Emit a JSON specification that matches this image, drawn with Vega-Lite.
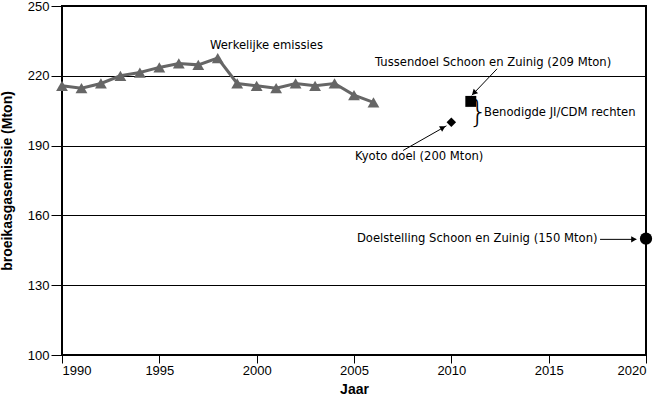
{
  "$schema": "https://vega.github.io/schema/vega-lite/v6.json",
  "width": 584,
  "height": 349,
  "autosize": {"type": "none"},
  "padding": {"left": 62, "top": 6, "right": 18, "bottom": 50},
  "background": "white",
  "config": {
    "view": {"stroke": "black", "strokeWidth": 2},
    "font": "Liberation Sans",
    "axis": {
      "labelFont": "Liberation Sans",
      "titleFont": "Liberation Sans",
      "labelFontSize": 13,
      "titleFontSize": 14,
      "titleFontWeight": "bold",
      "labelColor": "black",
      "titleColor": "black",
      "tickColor": "black",
      "domain": false
    }
  },
  "datasets": {
    "emissies": [
      {"Jaar": 1990, "waarde": 215.7},
      {"Jaar": 1991, "waarde": 214.7},
      {"Jaar": 1992, "waarde": 216.7},
      {"Jaar": 1993, "waarde": 220.0},
      {"Jaar": 1994, "waarde": 221.4},
      {"Jaar": 1995, "waarde": 223.6},
      {"Jaar": 1996, "waarde": 225.3},
      {"Jaar": 1997, "waarde": 224.7},
      {"Jaar": 1998, "waarde": 227.6},
      {"Jaar": 1999, "waarde": 216.7},
      {"Jaar": 2000, "waarde": 215.7},
      {"Jaar": 2001, "waarde": 214.7},
      {"Jaar": 2002, "waarde": 216.7},
      {"Jaar": 2003, "waarde": 215.7},
      {"Jaar": 2004, "waarde": 216.7},
      {"Jaar": 2005, "waarde": 211.7},
      {"Jaar": 2006, "waarde": 208.6}
    ],
    "doelen": [
      {"Jaar": 2010, "waarde": 200, "doel": "Kyoto doel"},
      {"Jaar": 2011, "waarde": 209, "doel": "Tussendoel"},
      {"Jaar": 2020, "waarde": 150, "doel": "Doelstelling"}
    ],
    "labels": [
      {"Jaar": 1997.6, "waarde": 232.9, "tekst": "Werkelijke emissies"},
      {"Jaar": 2006.08, "waarde": 225.6, "tekst": "Tussendoel Schoon en Zuinig (209 Mton)"},
      {"Jaar": 2005.05, "waarde": 184.9, "tekst": "Kyoto doel (200 Mton)"},
      {"Jaar": 2011.68, "waarde": 204.1, "tekst": "Benodigde JI/CDM rechten"},
      {"Jaar": 2005.15, "waarde": 149.7, "tekst": "Doelstelling Schoon en Zuinig (150 Mton)"}
    ],
    "pijlen": [
      {"Jaar": 2012.35, "waarde": 223.0, "Jaar2": 2011.05, "waarde2": 211.6},
      {"Jaar": 2007.52, "waarde": 187.9, "Jaar2": 2009.75, "waarde2": 198.5},
      {"Jaar": 2017.64, "waarde": 149.7, "Jaar2": 2019.5, "waarde2": 149.7}
    ]
  },
  "encoding": {
    "x": {
      "field": "Jaar",
      "type": "quantitative",
      "scale": {"domain": [1990, 2020], "nice": false, "zero": false},
      "axis": {"title": "Jaar", "format": "d", "values": [1990, 1995, 2000, 2005, 2010, 2015, 2020], "grid": false, "tickSize": 8, "labelPadding": 1, "titlePadding": 5}
    },
    "y": {
      "field": "waarde",
      "type": "quantitative",
      "scale": {"domain": [100, 250], "nice": false, "zero": false},
      "axis": {"title": "broeikasgasemissie (Mton)", "values": [100, 130, 160, 190, 220, 250], "grid": true, "gridColor": "black", "gridOpacity": 1, "gridWidth": 1, "tickSize": 11, "labelPadding": 2, "titlePadding": 13}
    }
  },
  "layer": [
    {
      "data": {"name": "emissies"},
      "mark": {"type": "line", "color": "#666666", "strokeWidth": 3, "point": {"shape": "triangle-up", "filled": true, "color": "#666666", "size": 140}}
    },
    {
      "data": {"name": "doelen"},
      "mark": {"type": "point", "filled": true, "color": "black", "opacity": 1},
      "encoding": {
        "shape": {"field": "doel", "type": "nominal", "scale": {"domain": ["Kyoto doel", "Tussendoel", "Doelstelling"], "range": ["diamond", "square", "circle"]}, "legend": null},
        "size": {"field": "doel", "type": "nominal", "scale": {"domain": ["Kyoto doel", "Tussendoel", "Doelstelling"], "range": [90, 150, 130]}, "legend": null}
      }
    },
    {
      "data": {"name": "labels"},
      "mark": {"type": "text", "align": "left", "baseline": "middle", "fontSize": 11.6, "font": "DejaVu Sans", "color": "black"},
      "encoding": {"text": {"field": "tekst"}}
    },
    {
      "data": {"name": "pijlen"},
      "mark": {"type": "rule", "color": "black", "strokeWidth": 1},
      "encoding": {
        "x2": {"field": "Jaar2"},
        "y2": {"field": "waarde2"}
      }
    },
    {
      "data": {"values": [{"Jaar": 2011.16, "waarde": 212.6}]},
      "mark": {"type": "point", "shape": "triangle-up", "filled": true, "color": "black", "size": 40, "angle": 225, "opacity": 1}
    },
    {
      "data": {"values": [{"Jaar": 2009.57, "waarde": 197.7}]},
      "mark": {"type": "point", "shape": "triangle-up", "filled": true, "color": "black", "size": 40, "angle": 61, "opacity": 1}
    },
    {
      "data": {"values": [{"Jaar": 2019.38, "waarde": 149.7}]},
      "mark": {"type": "point", "shape": "triangle-up", "filled": true, "color": "black", "size": 40, "angle": 90, "opacity": 1}
    },
    {
      "data": {"values": [{"Jaar": 2011.37, "waarde": 204.1, "teken": "}"}]},
      "mark": {"type": "text", "align": "center", "baseline": "middle", "fontSize": 30, "font": "DejaVu Sans", "fontWeight": 200, "color": "black"},
      "encoding": {"text": {"field": "teken"}}
    }
  ]
}
